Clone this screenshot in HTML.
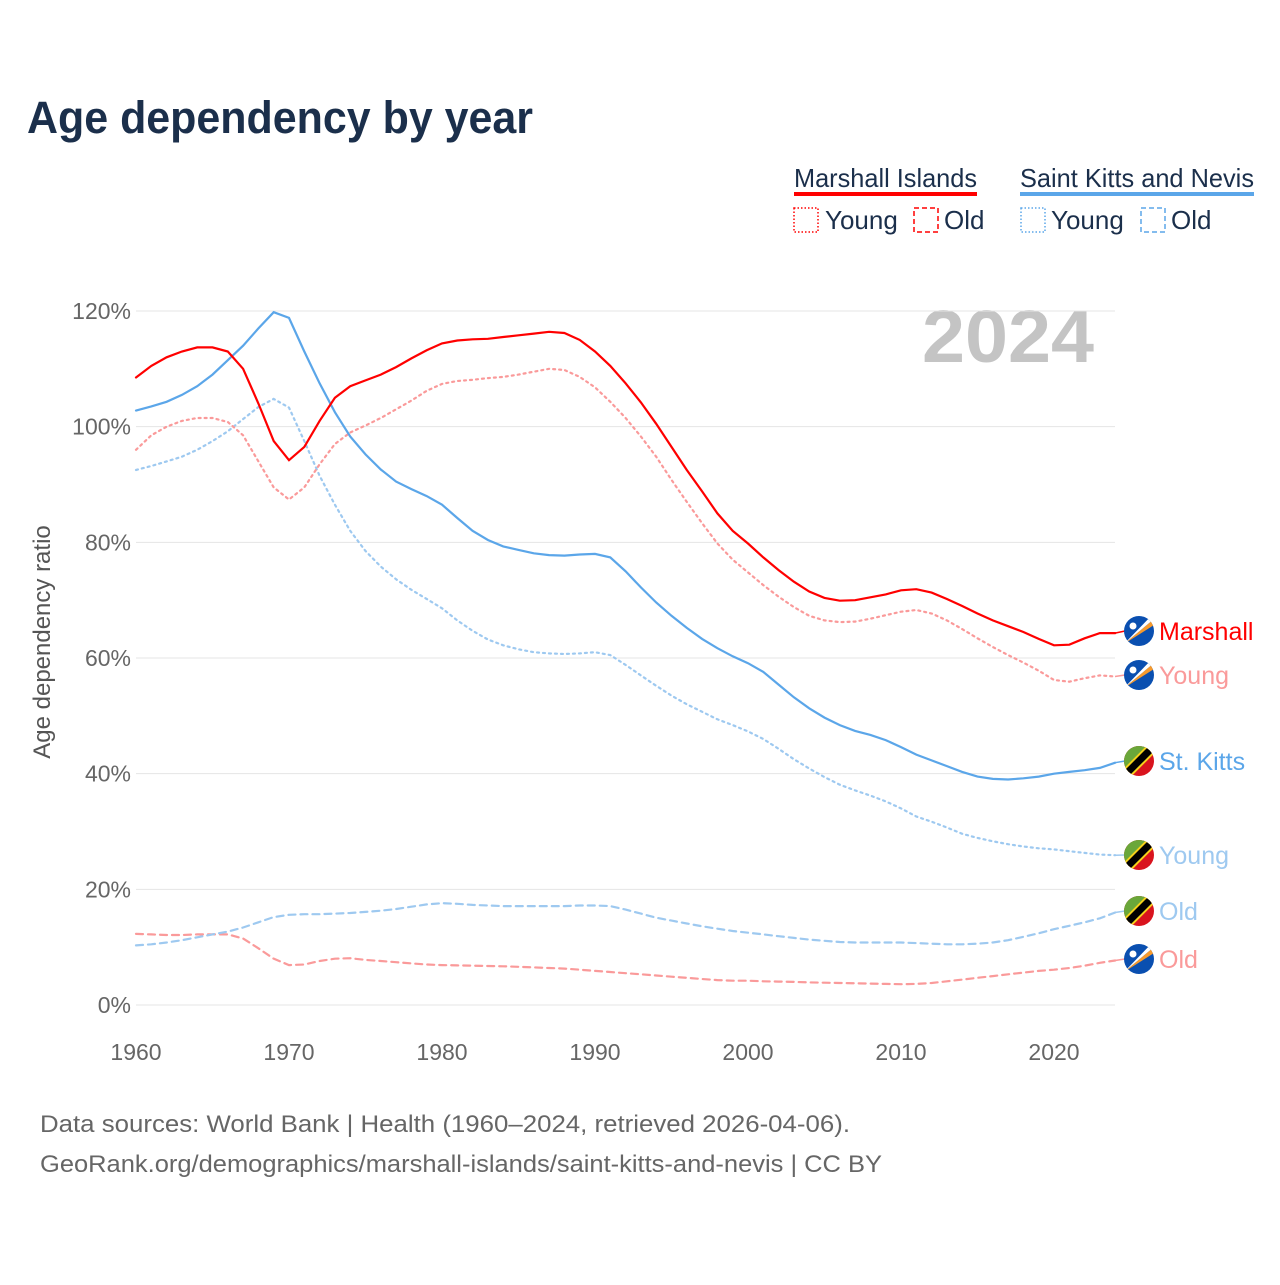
<!DOCTYPE html>
<html><head><meta charset="utf-8">
<style>
body{margin:0;background:#fff;font-family:"Liberation Sans",sans-serif;}
svg text{font-family:"Liberation Sans",sans-serif;}
</style></head>
<body>
<svg id="c" width="1280" height="1280" viewBox="0 0 1280 1280" xmlns="http://www.w3.org/2000/svg">
<text x="27" y="133" font-size="45" font-weight="bold" fill="#1b2f4b" textLength="506" lengthAdjust="spacingAndGlyphs">Age dependency by year</text>
<g font-size="26" fill="#1b2f4b">
<text x="794" y="187" textLength="183" lengthAdjust="spacingAndGlyphs">Marshall Islands</text>
<rect x="794" y="192" width="183" height="4" fill="#ff0000"/>
<rect x="794" y="208" width="24" height="24" fill="none" stroke="#ff0000" stroke-width="1.5" stroke-dasharray="1.5 2"/>
<text x="825" y="229">Young</text>
<rect x="914" y="208" width="24" height="24" fill="none" stroke="#ff0000" stroke-width="1.5" stroke-dasharray="5 3"/>
<text x="944" y="229">Old</text>
<text x="1020" y="187" textLength="234" lengthAdjust="spacingAndGlyphs">Saint Kitts and Nevis</text>
<rect x="1020" y="192" width="234" height="4" fill="#5ba6e9"/>
<rect x="1021" y="208" width="24" height="24" fill="none" stroke="#5ba6e9" stroke-width="1.5" stroke-dasharray="1.5 2"/>
<text x="1051" y="229">Young</text>
<rect x="1141" y="208" width="24" height="24" fill="none" stroke="#5ba6e9" stroke-width="1.5" stroke-dasharray="5 3"/>
<text x="1171" y="229">Old</text>
</g>
<text x="1094" y="362" font-size="74" font-weight="bold" fill="#c4c4c4" text-anchor="end" textLength="172" lengthAdjust="spacingAndGlyphs">2024</text>
<text transform="translate(50,642) rotate(-90)" font-size="24" fill="#555" text-anchor="middle">Age dependency ratio</text>
<g id="grid"></g><g id="series"></g><g id="labels"></g>
<text x="40" y="1132" font-size="24" fill="#666" textLength="810" lengthAdjust="spacingAndGlyphs">Data sources: World Bank | Health (1960–2024, retrieved 2026-04-06).</text>
<text x="40" y="1172" font-size="24" fill="#666" textLength="842" lengthAdjust="spacingAndGlyphs">GeoRank.org/demographics/marshall-islands/saint-kitts-and-nevis | CC BY</text>
</svg>
<script>
const years=[];for(let y=1960;y<=2024;y++)years.push(y);
const yTicks=[0,20,40,60,80,100,120];
const xTicks=[1960,1970,1980,1990,2000,2010,2020];
const mhTotal=[108.5,110.5,112,113,113.7,113.7,113,110,104,97.5,94.2,96.5,101,105,107,108,109,110.3,111.8,113.2,114.4,114.9,115.1,115.2,115.5,115.8,116.1,116.4,116.2,115,113,110.5,107.5,104.2,100.5,96.5,92.5,88.8,85,82,79.8,77.4,75.2,73.2,71.5,70.4,69.9,70,70.5,71,71.7,71.9,71.3,70.2,69,67.7,66.5,65.5,64.5,63.3,62.2,62.3,63.4,64.3,64.3];
const mhYoung=[96,98.5,100,101,101.5,101.5,100.8,98.5,94,89.5,87.4,89.5,93.5,97,99,100.2,101.5,103,104.5,106.2,107.4,107.9,108.1,108.4,108.6,109,109.5,110,109.8,108.6,106.8,104.3,101.5,98.3,94.8,90.8,87,83.3,79.8,77,74.8,72.6,70.6,68.8,67.3,66.5,66.2,66.3,66.8,67.4,68,68.3,67.7,66.5,65,63.4,61.9,60.5,59.2,57.8,56.2,55.9,56.5,57,56.8];
const mhOld=[12.3,12.2,12.1,12.1,12.2,12.2,12.2,11.5,9.8,8,6.9,7,7.6,8,8.1,7.8,7.6,7.4,7.2,7,6.9,6.85,6.8,6.75,6.7,6.6,6.5,6.4,6.3,6.1,5.9,5.7,5.5,5.3,5.1,4.9,4.7,4.5,4.3,4.2,4.2,4.1,4.05,4,3.9,3.85,3.8,3.75,3.7,3.65,3.6,3.65,3.8,4.1,4.4,4.7,5,5.3,5.6,5.9,6.1,6.4,6.8,7.3,7.7];
const skTotal=[102.8,103.5,104.3,105.5,107,109,111.5,114,117,119.8,118.8,113,107.5,102.5,98.3,95.2,92.6,90.5,89.2,88,86.5,84.2,82,80.4,79.3,78.7,78.1,77.8,77.7,77.9,78,77.4,75,72.2,69.6,67.3,65.2,63.3,61.7,60.3,59.1,57.6,55.4,53.2,51.3,49.7,48.4,47.4,46.7,45.8,44.6,43.3,42.3,41.3,40.3,39.5,39.1,39,39.2,39.5,40,40.3,40.6,41,41.9];
const skYoung=[92.5,93.2,94,94.8,96,97.5,99.2,101.3,103.4,104.8,103.3,97.5,91.5,86.5,82,78.5,75.8,73.6,71.8,70.2,68.6,66.5,64.7,63.2,62.2,61.5,61,60.8,60.7,60.8,61,60.5,58.8,57,55.2,53.5,52,50.7,49.4,48.4,47.3,46,44.3,42.5,40.9,39.4,38.1,37.1,36.2,35.2,34,32.6,31.7,30.7,29.6,28.9,28.3,27.8,27.4,27.1,26.9,26.6,26.3,26,25.9];
const skOld=[10.3,10.5,10.8,11.2,11.7,12.2,12.7,13.4,14.3,15.2,15.6,15.7,15.7,15.8,15.9,16.1,16.3,16.6,17,17.4,17.6,17.5,17.3,17.2,17.1,17.1,17.1,17.1,17.1,17.2,17.2,17.1,16.5,15.8,15.1,14.6,14.1,13.6,13.2,12.8,12.5,12.2,11.9,11.6,11.3,11.1,10.9,10.8,10.8,10.8,10.8,10.7,10.6,10.5,10.5,10.6,10.8,11.2,11.8,12.4,13.1,13.7,14.3,15,16];
const NS="http://www.w3.org/2000/svg";
const X=y=>136+(y-1960)*(1054-136)/60;
const Y=v=>1005-v*(1005-311)/120;
function mk(t,a,p){const e=document.createElementNS(NS,t);for(const k in a)e.setAttribute(k,a[k]);p.appendChild(e);return e;}
const grid=document.getElementById('grid');
yTicks.forEach(t=>{
 const l=mk('line',{x1:136,x2:1115,y1:Y(t),y2:Y(t),stroke:'#e4e4e4','stroke-width':1},grid);
 
 
 const tx=mk('text',{x:131,y:Y(t)+8,'font-size':23,fill:'#666','text-anchor':'end'},grid);
 tx.textContent=t+'%';
 
 
});
xTicks.forEach(t=>{
 const tx=mk('text',{x:X(t),y:1060,'font-size':23,fill:'#666','text-anchor':'middle'},grid);
 tx.textContent=t;
 
 
});
const ser=document.getElementById('series');
const defs=[
 [mhOld,'#fa9a9a','7 5','marshall-old-line'],
 [skOld,'#9ec9f0','7 5','stkitts-old-line'],
 [skYoung,'#9ec9f0','2 4','stkitts-young-line'],
 [mhYoung,'#fa9a9a','2 4','marshall-young-line'],
 [skTotal,'#5ba6e9','','stkitts-total-line'],
 [mhTotal,'#ff0000','','marshall-total-line']];
defs.forEach(([d,c,da,n])=>{
 const p=mk('path',{d:d.map((v,i)=>(i?'L':'M')+X(years[i]).toFixed(1)+','+Y(v).toFixed(1)).join(''),fill:'none',stroke:c,'stroke-width':2.2,'stroke-dasharray':da,'stroke-linecap':'round'},ser);
 
 
});
const lab=document.getElementById('labels');
const L=[[mhTotal,'Marshall','#ff0000','mh',631],[mhYoung,'Young','#fa9a9a','mh',675],[skTotal,'St. Kitts','#5ba6e9','sk',761],[skYoung,'Young','#9ec9f0','sk',855],[skOld,'Old','#9ec9f0','sk',911],[mhOld,'Old','#fa9a9a','mh',959]];
L.forEach(([d,t,c,f,ly])=>{
 const g=mk('g',{},lab);
 
 
 const vy=Y(d[d.length-1]);
 mk('line',{x1:1115,x2:1125,y1:vy,y2:ly,stroke:c,'stroke-width':1.5},g);
 const cx=1139,cy=ly;
 const id='cl'+ly;
 const cp=mk('clipPath',{id:id},g);mk('circle',{cx:cx,cy:cy,r:15},cp);
 const fg=mk('g',{'clip-path':'url(#'+id+')'},g);
 if(f==='mh'){
  mk('rect',{x:cx-15,y:cy-15,width:30,height:30,fill:'#0a4fb0'},fg);
  mk('polygon',{points:`${cx-15},${cy+13} ${cx+15},${cy-12} ${cx+15},${cy-6}`,fill:'#f79a2c'},fg);
  mk('polygon',{points:`${cx-15},${cy+13} ${cx+15},${cy-12} ${cx+15},${cy-18}`,fill:'#fff'},fg);
  mk('circle',{cx:cx-6,cy:cy-5,r:3.5,fill:'#fff'},fg);
 }else{
  mk('rect',{x:cx-15,y:cy-15,width:30,height:30,fill:'#d9141e'},fg);
  mk('polygon',{points:`${cx-15},${cy-15} ${cx+15},${cy-15} ${cx-15},${cy+15}`,fill:'#6aa73a'},fg);
  mk('line',{x1:cx-17,y1:cy+17,x2:cx+17,y2:cy-17,stroke:'#f6d21a','stroke-width':11},fg);
  mk('line',{x1:cx-17,y1:cy+17,x2:cx+17,y2:cy-17,stroke:'#000','stroke-width':7},fg);
 }
 const tx=mk('text',{x:1159,y:ly+9,'font-size':25,fill:c},g);
 tx.textContent=t;
});
</script>
</body></html>
